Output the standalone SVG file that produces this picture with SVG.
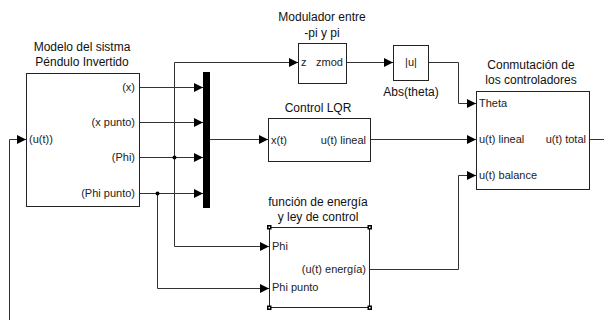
<svg xmlns="http://www.w3.org/2000/svg" width="604" height="320" viewBox="0 0 604 320">
<defs>
<marker id="arr" markerWidth="10" markerHeight="9" refX="9" refY="4.5" orient="auto" markerUnits="userSpaceOnUse">
<path d="M0,0 L9,4.5 L0,9 z" fill="#000"/>
</marker>
<style>
.blk{fill:#fff;stroke:#222;stroke-width:1}
.ln{fill:none;stroke:#333;stroke-width:1}
.t{font-family:"Liberation Sans",Arial,sans-serif;font-size:12px;fill:#111;text-anchor:middle}
.p{font-family:"Liberation Sans",Arial,sans-serif;font-size:11px;fill:#222}
.r{text-anchor:end}
.h{fill:#fff;stroke:#000;stroke-width:1.5}
</style>
</defs>
<rect width="604" height="320" fill="#fff"/>
<g id="connectors">
<path class="ln" d="M139,87.5 H203" marker-end="url(#arr)"/>
<path class="ln" d="M139,122.5 H203" marker-end="url(#arr)"/>
<path class="ln" d="M139,157.5 H203" marker-end="url(#arr)"/>
<path class="ln" d="M139,193.5 H203" marker-end="url(#arr)"/>
<path class="ln" d="M174.5,157.5 V62.5 H298" marker-end="url(#arr)"/>
<path class="ln" d="M174.5,157.5 V246.5 H269" marker-end="url(#arr)"/>
<path class="ln" d="M157.5,193.5 V288.5 H269" marker-end="url(#arr)"/>
<path class="ln" d="M210,139.5 H268" marker-end="url(#arr)"/>
<path class="ln" d="M346,62.5 H393" marker-end="url(#arr)"/>
<path class="ln" d="M428,62.5 H458.5 V103.5 H476" marker-end="url(#arr)"/>
<path class="ln" d="M370,139.5 H476" marker-end="url(#arr)"/>
<path class="ln" d="M369,269.5 H458.5 V175.5 H476" marker-end="url(#arr)"/>
<path class="ln" d="M589,139.5 H604"/>
<path class="ln" d="M9.5,320 V139.5 H26" marker-end="url(#arr)"/>
<circle cx="174.5" cy="157.5" r="2" fill="#000"/>
<circle cx="157.5" cy="193.5" r="2" fill="#000"/>
</g>
<g id="modelo">
<text class="t" x="82" y="51">Modelo del sistma</text>
<text class="t" x="82" y="66">Péndulo Invertido</text>
<rect class="blk" x="26.5" y="73.5" width="113" height="133"/>
<text class="p r" x="135" y="91">(x)</text>
<text class="p r" x="135" y="126">(x punto)</text>
<text class="p r" x="135" y="161">(Phi)</text>
<text class="p r" x="135" y="197">(Phi punto)</text>
<text class="p" x="29" y="143">(u(t))</text>
</g>
<g id="mux">
<rect x="203" y="72" width="7" height="136" fill="#000"/>
</g>
<g id="modulador">
<text class="t" x="322" y="21">Modulador entre</text>
<text class="t" x="322" y="37">-pi y pi</text>
<rect class="blk" x="298.5" y="43.5" width="48" height="40"/>
<text class="p" x="301" y="66">z</text>
<text class="p r" x="343" y="66">zmod</text>
</g>
<g id="abs">
<rect class="blk" x="393.5" y="45.5" width="35" height="35"/>
<text class="p" x="411" y="66" text-anchor="middle">|u|</text>
<text class="t" x="411" y="96">Abs(theta)</text>
</g>
<g id="lqr">
<text class="t" x="318" y="112">Control LQR</text>
<rect class="blk" x="268.5" y="118.5" width="102" height="43"/>
<text class="p" x="271" y="144">x(t)</text>
<text class="p r" x="366" y="144">u(t) lineal</text>
</g>
<g id="energia">
<text class="t" x="318" y="206">función de energía</text>
<text class="t" x="318" y="221">y ley de control</text>
<rect class="blk" x="269.5" y="227.5" width="100" height="80"/>
<rect class="h" x="267.75" y="225.75" width="3" height="3"/>
<rect class="h" x="368.25" y="225.75" width="3" height="3"/>
<rect class="h" x="267.75" y="306.25" width="3" height="3"/>
<rect class="h" x="368.25" y="306.25" width="3" height="3"/>
<text class="p" x="272" y="250">Phi</text>
<text class="p" x="272" y="291">Phi punto</text>
<text class="p r" x="366" y="273">(u(t) energía)</text>
</g>
<g id="conmutacion">
<text class="t" x="531" y="69">Conmutación de</text>
<text class="t" x="531" y="84">los controladores</text>
<rect class="blk" x="476.5" y="91.5" width="113" height="98"/>
<text class="p" x="479" y="107">Theta</text>
<text class="p" x="479" y="143">u(t) lineal</text>
<text class="p" x="479" y="179">u(t) balance</text>
<text class="p r" x="586" y="143">u(t) total</text>
</g>
</svg>
